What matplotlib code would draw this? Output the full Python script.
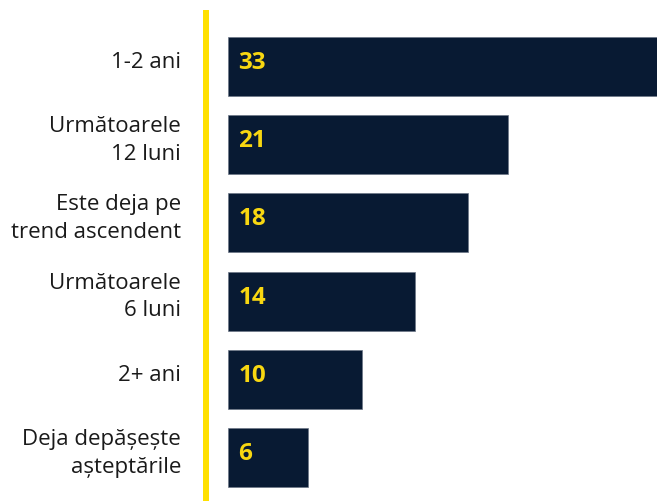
import matplotlib.pyplot as plt
from matplotlib.lines import Line2D

plt.rcParams['font.family'] = ['Open Sans', 'DejaVu Sans']

categories = [
    "1-2 ani",
    "Următoarele\n12 luni",
    "Este deja pe\ntrend ascendent",
    "Următoarele\n6 luni",
    "2+ ani",
    "Deja depășește\nașteptările",
]
values = [33, 21, 18, 14, 10, 6]

NAVY = "#081a33"
YELLOW = "#ffe000"
VALUE_YELLOW = "#f8d711"

W, H, DPI = 657, 501, 100
fig = plt.figure(figsize=(W / DPI, H / DPI), dpi=DPI)

# axes span from the bar origin to the right edge, full height
left_px = 228
ax = fig.add_axes([left_px / W, 0, 1 - left_px / W, 1])
px_per_unit = 13.35
ax.set_xlim(0, (W - left_px) / px_per_unit)

pitch = 78.2
first_center = 66.5
ypos = list(range(len(values)))
ax.set_ylim(len(values) - 1 + (H - (first_center + pitch * 5)) / pitch,
            -first_center / pitch)

ax.barh(ypos, values, height=59 / pitch, color=NAVY,
        edgecolor="#6b7686", linewidth=0.5)

for y, v in zip(ypos, values):
    ax.annotate(str(v), xy=(0, y), xytext=(7.5, 2.5), textcoords="offset points",
                ha="left", va="center", fontsize=17.5, fontweight="bold",
                color=VALUE_YELLOW)

for y, label in zip(ypos, categories):
    ax.annotate(label, xy=(0, y), xytext=(-(left_px - 181) * 72 / DPI, 3),
                textcoords="offset points", ha="right", va="center",
                fontsize=16, color="#1a1a1a", linespacing=1.42,
                annotation_clip=False)

ax.axis("off")

# yellow divider between labels and bars
fig.add_artist(Line2D([206 / W, 206 / W], [0, 1 - 10 / H],
                      transform=fig.transFigure, color=YELLOW,
                      linewidth=6 * 72 / DPI, solid_capstyle="butt"))

fig.savefig("out.png", dpi=DPI)
